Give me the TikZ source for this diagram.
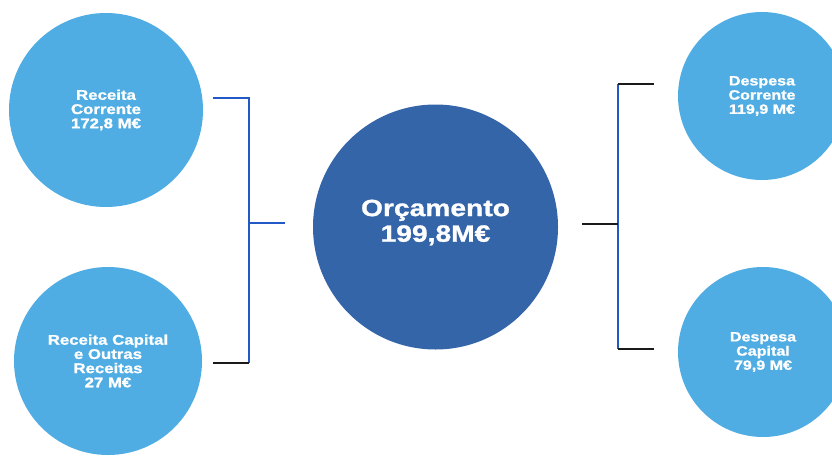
\documentclass[tikz,border=0pt]{standalone}
\usepackage{fontspec}
\setmainfont{Liberation Sans}[FakeStretch=1.2,BoldFeatures={FakeBold=1.2}]
\usetikzlibrary{positioning}
\definecolor{bolhaclara}{HTML}{50ADE3}
\definecolor{bolhaescura}{HTML}{3465A8}
\definecolor{linhaazul}{HTML}{2259C6}
\definecolor{linhapreta}{HTML}{1A1A1A}

\begin{document}
\begin{tikzpicture}[x=1pt,y=-1pt,
  bolha/.style={circle,fill=bolhaclara,text=white,align=center,inner sep=0pt,
    font=\fontsize{14}{14.2}\selectfont\bfseries},
  bolhadir/.style={bolha,font=\fontsize{13.4}{14.2}\selectfont\bfseries},
  azul/.style={draw=linhaazul,line width=1.8pt},
  preto/.style={draw=linhapreta,line width=1.8pt}]
\useasboundingbox (0,0) rectangle (832,455);
\clip (0,0) rectangle (832,455);
% receitas
\node[bolha,minimum size=194pt] (rc) at (106,110) {Receita\\Corrente\\172,8 M€};
\node[bolha,minimum size=188pt] (rk) at (108,361) {Receita Capital\\e Outras\\Receitas\\27 M€};
% orcamento
\node[circle,fill=bolhaescura,inner sep=0pt,minimum size=245pt,
  label={[text=white,align=center,yshift=4.5pt,
  font=\fontsize{23.5}{25.6}\selectfont\bfseries]center:Orçamento\\199,8M€}] (orc) at (435.5,227) {};
% despesas
\node[bolhadir,minimum size=168pt] (dc) at (762,96) {Despesa\\Corrente\\119,9 M€};
\node[bolhadir,minimum size=170pt] (dk) at (763,352) {Despesa\\Capital\\79,9 M€};
% chaveta esquerda
\coordinate (e1) at (213,98);
\coordinate (e2) at (249,98);
\coordinate (e3) at (249,363);
\coordinate (e4) at (213,363);
\coordinate (em) at (249,223);
\coordinate (eo) at (285,223);
\draw[azul] (e1) -- (e2) -- (e3);
\draw[preto] (e3) -- (e4);
\draw[azul] (em) -- (eo);
% chaveta direita
\coordinate (d1) at (654,84);
\coordinate (d2) at (618,84);
\coordinate (d3) at (618,349);
\coordinate (d4) at (654,349);
\coordinate (dm) at (618,224);
\coordinate (do) at (582,224);
\draw[azul] (d2) -- (d3);
\draw[preto] (d1) -- (d2);
\draw[preto] (d3) -- (d4);
\draw[preto] (do) -- (dm);
\end{tikzpicture}
\end{document}
